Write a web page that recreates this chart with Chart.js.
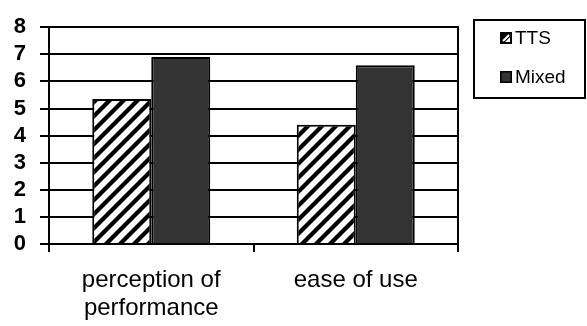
<!DOCTYPE html>
<html>
<head>
<meta charset="utf-8">
<script src="https://cdn.jsdelivr.net/npm/chart.js@4/dist/chart.umd.min.js"></script>
<style>
  html, body { margin: 0; padding: 0; background: #fff; }
  #wrap { width: 587px; height: 326px; position: relative; }
</style>
</head>
<body>
<div id="wrap"><canvas id="c" width="587" height="326"></canvas></div>
<script>
// Ratings by condition
const categories = [['perception of', 'performance'], 'ease of use'];
const seriesNames = ['TTS', 'Mixed'];
const ttsValues = [5.35, 4.4];
const mixedValues = [6.9, 6.6];
const yTicks = [0, 1, 2, 3, 4, 5, 6, 7, 8];

// Diagonal hatch fill for the TTS bars
function makeHatch() {
  const s = 14;
  const t = document.createElement('canvas');
  t.width = s; t.height = s;
  const g = t.getContext('2d');
  g.fillStyle = '#fff';
  g.fillRect(0, 0, s, s);
  g.strokeStyle = '#000';
  g.lineWidth = 4.2;
  g.lineCap = 'square';
  for (const o of [-s, 0, s]) {
    g.beginPath();
    g.moveTo(o - 2, s + 2);
    g.lineTo(o + s + 2, -2);
    g.stroke();
  }
  return g.createPattern(t, 'repeat');
}
const ctx = document.getElementById('c').getContext('2d');
const hatch = makeHatch();

// Right frame line of the plot area
const frame = {
  id: 'frame',
  afterDraw(chart) {
    const a = chart.chartArea, c = chart.ctx;
    c.save();
    c.strokeStyle = '#000';
    c.lineWidth = 2;
    c.beginPath();
    c.moveTo(a.right, a.top - 1);
    c.lineTo(a.right, a.bottom);
    c.stroke();
    c.restore();
  }
};

// Boxed legend at the top right
const boxLegend = {
  id: 'boxLegend',
  afterDraw(chart) {
    const c = chart.ctx;
    const x = 474, y = 20, w = 111, h = 78;
    c.save();
    c.strokeStyle = '#000';
    c.lineWidth = 2;
    c.strokeRect(x, y, w, h);
    c.font = '19px "Liberation Sans", Arial, sans-serif';
    c.textBaseline = 'middle';
    c.fillStyle = '#000';
    chart.data.datasets.forEach((ds, i) => {
      const cy = 38 + i * 39;
      const ix = 500, iy = cy - 6, is = 12;
      if (i === 0) {
        c.fillStyle = '#000';
        c.fillRect(ix, iy, is, is);
        c.strokeStyle = '#fff';
        c.lineWidth = 2;
        c.beginPath();
        c.moveTo(ix + 3, iy + is - 3);
        c.lineTo(ix + is - 3, iy + 3);
        c.stroke();
        c.fillStyle = '#fff';
        c.beginPath();
        c.moveTo(ix + is - 2, iy + 5);
        c.lineTo(ix + is - 2, iy + is - 2);
        c.lineTo(ix + 5, iy + is - 2);
        c.closePath();
        c.fill();
      } else {
        c.fillStyle = ds.backgroundColor;
        c.fillRect(ix, iy, is, is);
        c.strokeStyle = '#000';
        c.lineWidth = 1.5;
        c.strokeRect(ix + 0.75, iy + 0.75, is - 1.5, is - 1.5);
      }
      c.fillStyle = '#000';
      c.fillText(ds.label, 515, cy + 1);
    });
    c.restore();
  }
};

new Chart(ctx, {
  type: 'bar',
  data: {
    labels: categories,
    datasets: [
      { label: seriesNames[0], data: ttsValues, backgroundColor: hatch,
        borderColor: '#000', borderWidth: 2 },
      { label: seriesNames[1], data: mixedValues, backgroundColor: '#333333',
        borderColor: '#000', borderWidth: 2 }
    ]
  },
  options: {
    responsive: false,
    animation: false,
    events: [],
    layout: { padding: { top: 18, right: 129, left: 0, bottom: 0 } },
    datasets: { bar: { categoryPercentage: 0.577, barPercentage: 1 } },
    plugins: { legend: { display: false }, tooltip: { enabled: false } },
    scales: {
      x: {
        afterFit(s) { s.height = 82; },
        grid: { offset: true, drawOnChartArea: false, color: '#000', lineWidth: 2, tickLength: 8 },
        border: { color: '#000', width: 2 },
        ticks: {
          color: '#000',
          padding: 15,
          maxRotation: 0,
          autoSkip: false,
          font: { family: '"Liberation Sans", Arial, sans-serif', size: 24, lineHeight: 1.15 }
        }
      },
      y: {
        min: 0, max: 8,
        afterFit(s) { s.width = 49; },
        afterBuildTicks(s) { s.ticks = yTicks.map(v => ({ value: v })); },
        grid: { color: '#000', lineWidth: 2, tickLength: 9 },
        border: { color: '#000', width: 2 },
        ticks: {
          color: '#000',
          padding: 14,
          autoSkip: false,
          stepSize: 1,
          font: { family: '"Liberation Sans", Arial, sans-serif', size: 22, weight: 'bold' }
        }
      }
    }
  },
  plugins: [frame, boxLegend]
});
</script>
</body>
</html>
